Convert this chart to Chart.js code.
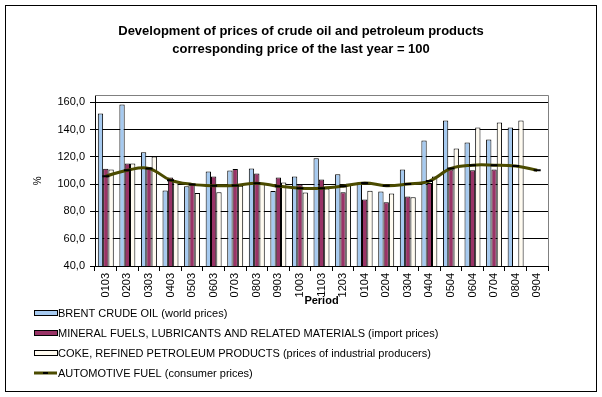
<!DOCTYPE html>
<html lang="en">
<head>
    <meta charset="UTF-8">
    <script src="https://cdn.jsdelivr.net/npm/chart.js@4"></script>
    <title>Crude oil prices</title>
    <style type="text/css">
        body { margin: 0; background: #fff; }
    </style>
</head>
<body>
    <canvas id="priceCanvas" width="602" height="397"></canvas>
</body>
<script>
var periods = ["0103","0203","0303","0403","0503","0603","0703","0803","0903","1003","1103","1203",
               "0104","0204","0304","0404","0504","0604","0704","0804","0904"];
var brent   = [151.7, 158.3, 123.4, 95.4, 98.5, 109.3, 110.0, 111.5, 94.9, 105.6, 119.0, 107.3,
               101.2, 94.6, 110.7, 132.0, 146.6, 130.5, 132.7, 141.5, null];
var mineral = [111.2, 115.1, 112.4, 104.9, 100.0, 105.6, 111.0, 107.8, 104.9, 99.8, 103.4, 94.1,
               88.8, 86.8, 91.0, 100.9, 110.7, 110.2, 110.7, null, null];
var coke    = [110.7, 115.1, 120.2, 101.7, 93.4, 94.1, 98.8, 100.5, 101.2, 93.9, 96.8, 100.5,
               95.1, 93.2, 90.3, 105.6, 126.1, 141.5, 145.1, 146.6, null];
var fuel    = [105.8, 110.2, 111.5, 102.9, 99.8, 98.8, 99.0, 100.7, 98.5, 97.0, 97.0, 98.5,
               100.9, 98.8, 100.0, 102.2, 111.5, 113.9, 113.9, 113.2, 110.2];
var yTicks  = [40, 60, 80, 100, 120, 140, 160];

var FONT = "'Liberation Sans', Arial, sans-serif";

// frame round the picture, grey plot border and the legend rows
var decorPlugin = {
    id: 'decor',
    afterDraw: function(chart) {
        var ctx = chart.ctx;
        var a = chart.chartArea;
        ctx.save();
        ctx.strokeStyle = '#808080';
        ctx.lineWidth = 1;
        ctx.beginPath();
        ctx.moveTo(a.left, Math.round(a.top) + 0.5);
        ctx.lineTo(Math.round(a.right) + 0.5, Math.round(a.top) + 0.5);
        ctx.lineTo(Math.round(a.right) + 0.5, a.bottom);
        ctx.stroke();

        ctx.strokeStyle = '#000';
        ctx.strokeRect(5.5, 5.5, 591, 386);

        var x0 = 34, rowY = chart.scales.x.bottom + 3;
        ctx.font = '11px ' + FONT;
        ctx.textBaseline = 'middle';
        ctx.fillStyle = '#000';
        chart.data.datasets.forEach(function(ds, i) {
            var y = Math.round(rowY + i * 20);
            if (ds.type === 'line') {
                ctx.strokeStyle = ds.borderColor;
                ctx.lineWidth = 3;
                ctx.beginPath();
                ctx.moveTo(x0, y);
                ctx.lineTo(x0 + 23, y);
                ctx.stroke();
                ctx.strokeStyle = '#000';
                ctx.lineWidth = 2;
                ctx.beginPath();
                ctx.moveTo(x0 + 9, y);
                ctx.lineTo(x0 + 14, y);
                ctx.stroke();
            } else {
                ctx.fillStyle = ds.backgroundColor;
                ctx.fillRect(x0 + 0.5, y - 2.5, 23, 5);
                ctx.strokeStyle = '#000';
                ctx.lineWidth = 1;
                ctx.strokeRect(x0 + 0.5, y - 2.5, 23, 5);
            }
            ctx.fillStyle = '#000';
            ctx.fillText(ds.label, x0 + 24, y + 0.5);
        });
        ctx.restore();
    }
};

var barStyle = { borderColor: '#000', borderWidth: 1, categoryPercentage: 0.74, barPercentage: 1, order: 1 };

var chart = new Chart(document.getElementById('priceCanvas'), {
    type: 'bar',
    data: {
        labels: periods,
        datasets: [
            Object.assign({ label: 'BRENT CRUDE OIL (world prices)', data: brent, backgroundColor: '#a6caf0' }, barStyle),
            Object.assign({ label: 'MINERAL FUELS, LUBRICANTS AND RELATED MATERIALS (import prices)', data: mineral, backgroundColor: '#993366' }, barStyle),
            Object.assign({ label: 'COKE, REFINED PETROLEUM PRODUCTS (prices of industrial producers)', data: coke, backgroundColor: '#fffbf0' }, barStyle),
            {
                type: 'line',
                label: 'AUTOMOTIVE FUEL (consumer prices)',
                data: fuel,
                borderColor: '#4b4b00',
                borderWidth: 3,
                tension: 0.4,
                pointStyle: 'line',
                pointRadius: 3.5,
                pointBorderColor: '#000',
                pointBorderWidth: 2,
                order: 0
            }
        ]
    },
    options: {
        responsive: false,
        animation: false,
        devicePixelRatio: 1,
        layout: { padding: { left: 5, right: 5, top: 0, bottom: 87 } },
        plugins: {
            legend: { display: false },
            tooltip: { enabled: false },
            title: {
                display: true,
                text: ['Development of prices of crude oil and petroleum products',
                       'corresponding price of the last year = 100'],
                color: '#000',
                font: { family: FONT, size: 13, weight: 'bold', lineHeight: 1.4 },
                padding: { top: 22, bottom: 37 }
            }
        },
        scales: {
            x: {
                afterFit: function(s) { s.height = 44; },
                grid: { drawOnChartArea: false, color: '#000', tickLength: 5 },
                border: { color: '#000' },
                ticks: {
                    autoSkip: false, minRotation: 90, maxRotation: 90, padding: 2,
                    color: '#000', font: { family: FONT, size: 11 }
                },
                title: {
                    display: true, text: 'Period', color: '#000',
                    font: { family: FONT, size: 11, weight: 'bold' },
                    padding: { top: 0, bottom: 2 }
                }
            },
            y: {
                min: 40,
                max: 165,
                afterFit: function(s) { s.width = 90; },
                afterBuildTicks: function(s) { s.ticks = yTicks.map(function(v) { return { value: v }; }); },
                grid: { color: '#000', tickLength: 5 },
                border: { color: '#000' },
                ticks: {
                    padding: 5, color: '#000', font: { family: FONT, size: 11 },
                    callback: function(v) { return v.toFixed(1).replace('.', ','); }
                },
                title: {
                    display: true, text: '%', color: '#000',
                    font: { family: FONT, size: 10 },
                    padding: { top: 27, bottom: 0 }
                }
            },
            yR: {
                position: 'right',
                afterFit: function(s) { s.width = 49; },
                grid: { display: false },
                border: { display: false },
                ticks: { display: false }
            }
        }
    },
    plugins: [decorPlugin]
});
</script>
</html>
